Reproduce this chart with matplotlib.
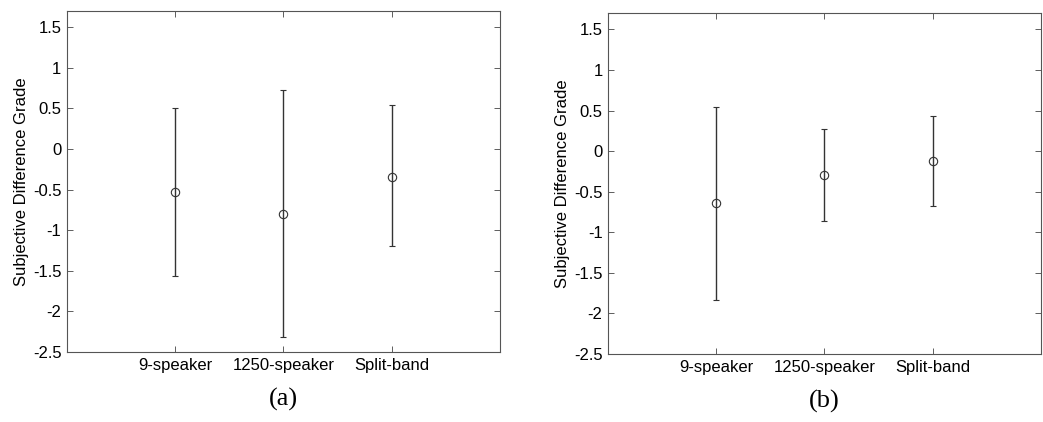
import matplotlib
matplotlib.use('Agg')
import matplotlib.pyplot as plt

categories = ['9-speaker', '1250-speaker', 'Split-band']

# panel (a)
mean_a = [-0.535, -0.80, -0.34]
upper_a = [0.51, 0.73, 0.54]
lower_a = [-1.57, -2.31, -1.20]

# panel (b)
mean_b = [-0.645, -0.30, -0.12]
upper_b = [0.54, 0.27, 0.43]
lower_b = [-1.83, -0.86, -0.68]

yticks = [-2.5, -2, -1.5, -1, -0.5, 0, 0.5, 1, 1.5]
ytick_labels = ['-2.5', '-2', '-1.5', '-1', '-0.5', '0', '0.5', '1', '1.5']

plt.rcParams['font.family'] = ['Liberation Sans', 'DejaVu Sans']

fig = plt.figure(figsize=(10.43, 4.22), dpi=100)
ax_a = fig.add_axes([0.0642, 0.166, 0.415, 0.808])
ax_b = fig.add_axes([0.583, 0.161, 0.415, 0.808])


def draw_panel(ax, means, uppers, lowers, caption):
    x = [1, 2, 3]
    err_lo = [m - lo for m, lo in zip(means, lowers)]
    err_hi = [hi - m for m, hi in zip(means, uppers)]
    ax.errorbar(x, means, yerr=[err_lo, err_hi], fmt='o', color='#333333',
                ecolor='#333333', elinewidth=1.0, capsize=2.5, capthick=1.0,
                markersize=6, markerfacecolor='none', markeredgewidth=0.8)
    ax.set_xlim(0, 4)
    ax.set_ylim(-2.5, 1.7)
    ax.set_xticks(x)
    ax.set_xticklabels(categories, fontsize=12)
    ax.set_yticks(yticks)
    ax.set_yticklabels(ytick_labels, fontsize=12)
    ax.set_ylabel('Subjective Difference Grade', fontsize=12, labelpad=3)
    ax.tick_params(direction='in', top=True, right=True, length=4,
                   width=0.6, color='#444444', pad=4)
    for s in ax.spines.values():
        s.set_color('#555555')
        s.set_linewidth(0.8)
    ax.text(0.5, -0.14, caption, transform=ax.transAxes, ha='center',
            va='center', fontsize=19, family=['Liberation Serif', 'DejaVu Serif'])


draw_panel(ax_a, mean_a, upper_a, lower_a, '(a)')
draw_panel(ax_b, mean_b, upper_b, lower_b, '(b)')

fig.savefig('out.png', dpi=100, facecolor='white')
